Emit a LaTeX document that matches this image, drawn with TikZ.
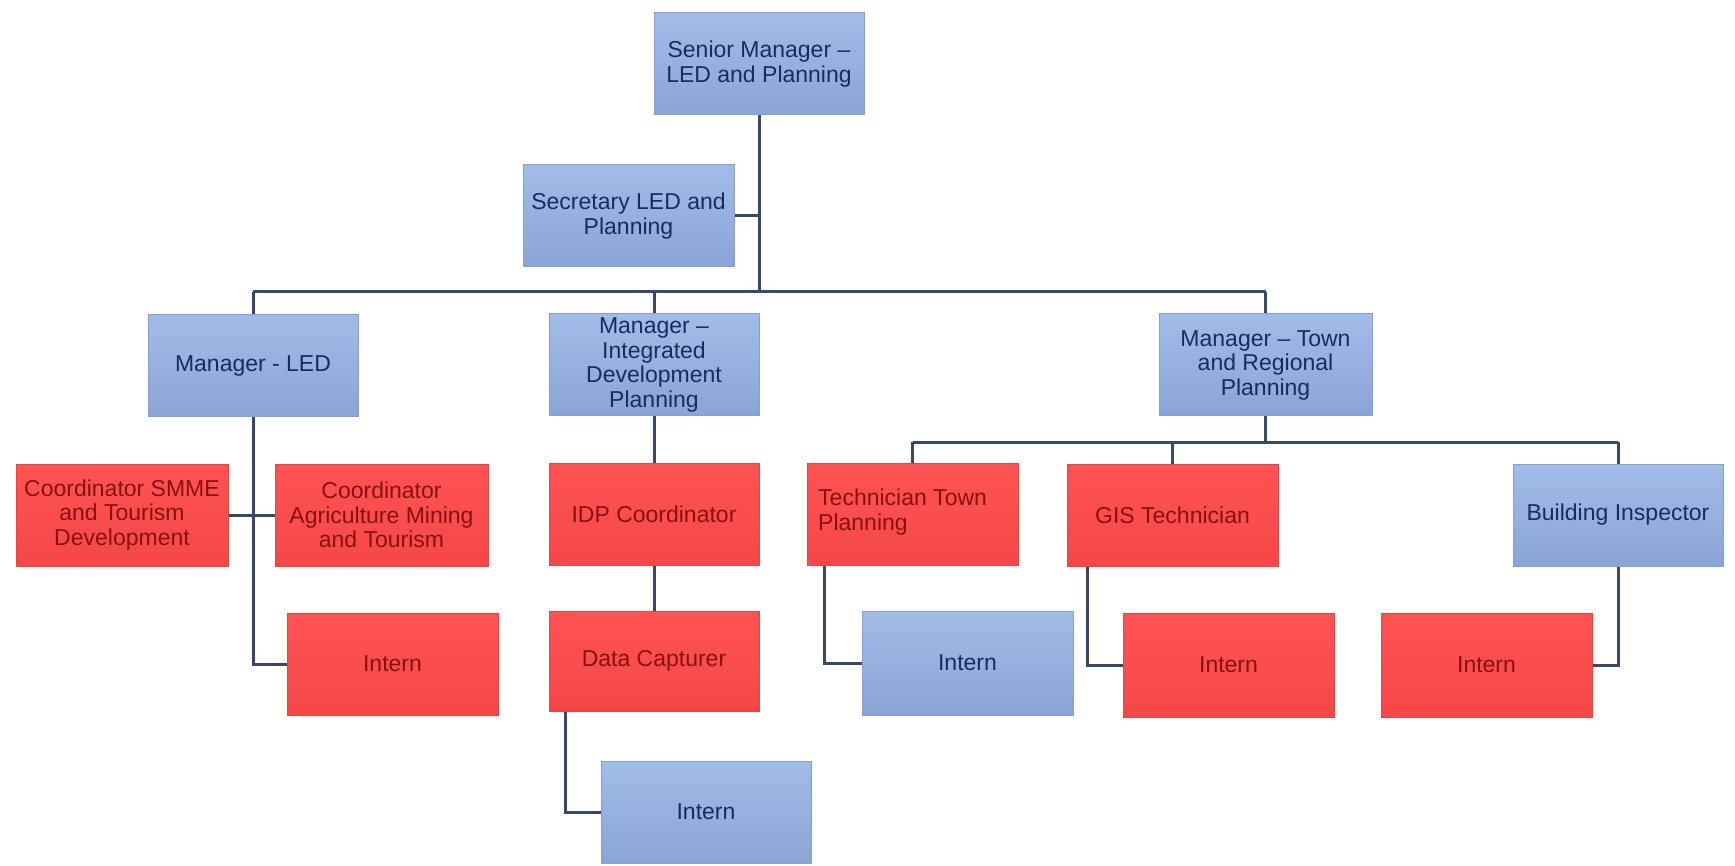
\documentclass[tikz,border=0pt]{standalone}
\usepackage{fontspec}
\setmainfont{Liberation Sans}
\begin{document}
\begin{tikzpicture}[x=1pt,y=-1pt,
  boxbase/.style={rectangle, minimum width=210pt, minimum height=102pt, inner sep=0pt,
    align=center, font=\fontsize{23}{24.5}\selectfont, line width=1pt},
  bluebox/.style={boxbase, top color=bluetop, bottom color=bluebot, draw=blueedge, text=bluetext},
  redbox/.style={boxbase, top color=redtop, bottom color=redbot, draw=rededge, text=redtext},
  conn/.style={draw=linecol, line width=3pt}]
\definecolor{bluetop}{HTML}{A2BCE9}
\definecolor{bluebot}{HTML}{8AA4D5}
\definecolor{blueedge}{HTML}{869FCD}
\definecolor{bluetext}{HTML}{1C2B5E}
\definecolor{redtop}{HTML}{FF5353}
\definecolor{redbot}{HTML}{F54747}
\definecolor{rededge}{HTML}{E44646}
\definecolor{redtext}{HTML}{8A1010}
\definecolor{linecol}{HTML}{3A4868}
\useasboundingbox (0,0) rectangle (1735,866);
\fill[white] (0,0) rectangle (1735,866);

% nodes
\node[bluebox] (sm) at (759,64) {Senior Manager –\\LED and Planning};
\node[bluebox, minimum width=211pt] (sec) at (628.5,216) {Secretary LED and\\Planning};
\node[bluebox] (mled) at (253,366) {Manager - LED};
\node[bluebox] (midp) at (654,365) {Manager –\\Integrated\\Development\\Planning};
\node[bluebox, minimum width=213pt] (mtown) at (1265.5,365) {Manager – Town\\and Regional\\Planning};
\node[redbox, minimum width=212pt] (csmme) at (122,515) {Coordinator SMME\\and Tourism\\Development};
\node[redbox, minimum width=213pt] (cagri) at (381.5,515) {Coordinator\\Agriculture Mining\\and Tourism};
\node[redbox] (idpc) at (654,514) {IDP Coordinator};
\node[redbox, minimum width=211pt] (tech) at (912.5,514.5) {};
\node[anchor=west, align=left, font=\fontsize{23}{24.5}\selectfont, text=redtext, inner sep=0pt] (techtxt) at (818,512) {Technician Town\\Planning};
\node[redbox, minimum width=211pt] (gis) at (1172.5,515) {GIS Technician};
\node[bluebox] (bi) at (1618,515) {Building Inspector};
\node[redbox, minimum width=211pt] (intled) at (392.5,664) {Intern};
\node[redbox, minimum height=100pt] (dc) at (654,661) {Data Capturer};
\node[bluebox] (intidp) at (706,812) {Intern};
\node[bluebox, minimum width=211pt, minimum height=104pt] (inttech) at (967.5,663) {Intern};
\node[redbox, minimum width=211pt, minimum height=104pt] (intgis) at (1228.5,665) {Intern};
\node[redbox, minimum width=211pt, minimum height=104pt] (intbi) at (1486.5,665) {Intern};

% coordinates
\coordinate (trunk) at (759,292);
\coordinate (busL) at (253,292);
\coordinate (busR) at (1265.5,292);
\coordinate (subbus) at (1265.5,442);

% connectors
\draw[conn] (sm.south) -- (trunk);
\draw[conn] (sec.east) -- (sec.east -| sm.south);
\draw[conn] (busL) -- (busR);
\draw[conn] (busL) -- (mled.north);
\draw[conn] (midp.north |- busL) -- (midp.north);
\draw[conn] (busR) -- (mtown.north);

\draw[conn] (csmme.east) -- (cagri.west);
\draw[conn] (mled.south) |- (intled.west);

\draw[conn] (midp.south) -- (idpc.north);
\draw[conn] (idpc.south) -- (dc.north);
\draw[conn] ([xshift=17pt]dc.south west) |- (intidp.west);

\draw[conn] (mtown.south) -- (subbus);
\draw[conn] (tech.north |- subbus) -- (bi.north |- subbus);
\draw[conn] (tech.north |- subbus) -- (tech.north);
\draw[conn] (gis.north |- subbus) -- (gis.north);
\draw[conn] (bi.north |- subbus) -- (bi.north);

\draw[conn] ([xshift=18pt]tech.south west) |- (inttech.west);
\draw[conn] ([xshift=21pt]gis.south west) |- (intgis.west);
\draw[conn] (bi.south) |- (intbi.east);
\end{tikzpicture}
\end{document}
